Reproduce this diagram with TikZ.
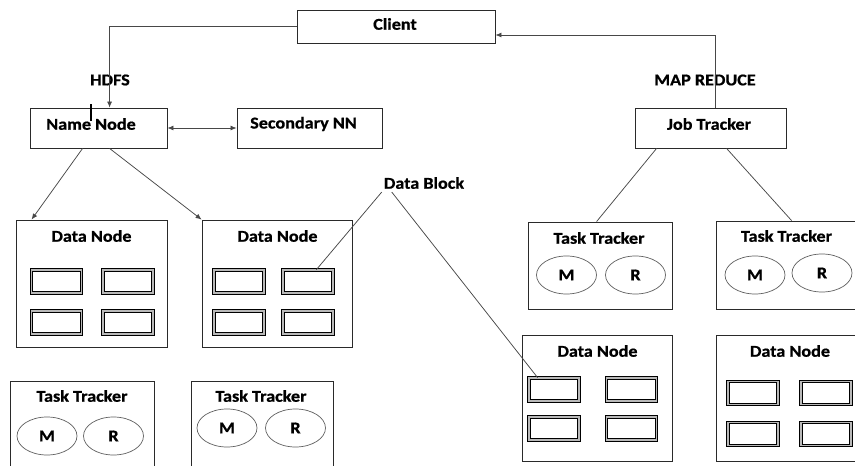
\documentclass[tikz,border=0pt]{standalone}
\usepackage{fontspec}
\setmainfont{Carlito}[FakeStretch=1.1,FakeBold=0.8]
\usetikzlibrary{arrows.meta,shapes.geometric}
\definecolor{edge}{HTML}{2A2A2A}
\definecolor{wire}{HTML}{484848}
\tikzset{
  box/.style={draw=edge, line width=0.85pt, fill=white, inner sep=0pt},
  lbl/.style={font=\bfseries\fontsize{16.5}{18}\selectfont, inner sep=0pt, text=black},
  blk/.style={draw=black, line width=0.7pt, double=gray!55, double distance=1.8pt,
              fill=white, minimum width=50pt, minimum height=23pt, inner sep=0pt},
  slot/.style={ellipse, draw=gray!75!black, line width=0.7pt, minimum width=60pt,
               minimum height=38pt, inner sep=0pt, font=\bfseries\fontsize{16.5}{18}\selectfont},
  wireline/.style={draw=wire, line width=0.75pt},
  arr/.style={wireline, -{Latex[length=6pt,width=5pt]}},
  darr/.style={wireline, {Latex[length=6pt,width=5pt]}-{Latex[length=6pt,width=5pt]}},
}
\begin{document}
\begin{tikzpicture}[x=1pt, y=-1pt]
\useasboundingbox (0,0) rectangle (855,466);
\clip (0,0) rectangle (855,466);

% top level
\node[box, minimum width=198pt, minimum height=33pt] (cl) at (396,26.5) {};
\node[lbl] at (395,24) {Client};
\node[box, minimum width=137pt, minimum height=40pt] (nn) at (98.5,128) {};
\node[lbl] at (91,124) {Name Node};
\node[box, minimum width=145pt, minimum height=40pt] (snn) at (309.5,128) {};
\node[lbl] at (303.5,124) {Secondary NN};
\node[box, minimum width=151pt, minimum height=40pt] (jt) at (710.5,128) {};
\node[lbl] at (709,124) {Job Tracker};

\node[lbl] (hdfs) at (110,80) {HDFS};
\node[lbl] (mr) at (705,80) {MAP REDUCE};
\node[lbl] (db) at (424,183) {Data Block};

% data nodes
\node[box, minimum width=151pt, minimum height=127pt] (dn1) at (91.5,283.5) {};
\node[lbl] at (91.5,236) {Data Node};
\node[blk] (b11) at (56.5,281.5) {};
\node[blk] (b12) at (128,281.5) {};
\node[blk] (b13) at (56.5,322.5) {};
\node[blk] (b14) at (128,322.5) {};

\node[box, minimum width=150pt, minimum height=127pt] (dn2) at (277,283.5) {};
\node[lbl] at (277.5,236) {Data Node};
\node[blk] (b21) at (239,281.5) {};
\node[blk] (b22) at (308,281.5) {};
\node[blk] (b23) at (239,322.5) {};
\node[blk] (b24) at (308,322.5) {};

\node[box, minimum width=150pt, minimum height=126pt] (dn3) at (597,398) {};
\node[lbl] at (597.5,351) {Data Node};
\node[blk] (b31) at (554,389.5) {};
\node[blk] (b32) at (631.5,389.5) {};
\node[blk] (b33) at (554,428.5) {};
\node[blk] (b34) at (631.5,428.5) {};

\node[box, minimum width=154pt, minimum height=126pt] (dn4) at (793,398) {};
\node[lbl] at (790,351) {Data Node};
\node[blk] (b41) at (753,393) {};
\node[blk] (b42) at (826,393) {};
\node[blk] (b43) at (753,434) {};
\node[blk] (b44) at (826,434) {};

% task trackers
\node[box, minimum width=144pt, minimum height=99pt] (tl1) at (82,430.5) {};
\node[lbl] at (82,396) {Task Tracker};
\node[slot] (tl1m) at (47,436) {M};
\node[slot] (tl1r) at (113.5,436) {R};

\node[box, minimum width=142pt, minimum height=99pt] (tl2) at (262,430.5) {};
\node[lbl] at (261,396) {Task Tracker};
\node[slot] (tl2m) at (227,428) {M};
\node[slot] (tl2r) at (295.5,428) {R};

\node[box, minimum width=144pt, minimum height=87pt] (tr1) at (600,265.5) {};
\node[lbl] at (599,238) {Task Tracker};
\node[slot] (tr1m) at (566.5,275) {M};
\node[slot] (tr1r) at (635.5,275) {R};

\node[box, minimum width=154pt, minimum height=88pt] (tr2) at (793,265) {};
\node[lbl] at (786.5,236) {Task Tracker};
\node[slot] (tr2m) at (755,275) {M};
\node[slot] (tr2r) at (822,273) {R};

% connectors
\draw[arr] (cl.west) -| ([xshift=80pt]nn.north west);
\draw[arr] ([xshift=81pt]jt.north west) |- ([yshift=-8.5pt]cl.east);
\draw[darr] (nn.east) -- (snn.west);
\draw[arr] ([xshift=53pt]nn.south west) -- ([xshift=16pt]dn1.north west);
\draw[arr] ([xshift=80pt]nn.south west) -- (dn2.north west);
\draw[wireline] ([xshift=22pt]jt.south west) -- ([xshift=69pt]tr1.north west);
\draw[wireline] ([xshift=92pt]jt.south west) -- ([xshift=76pt]tr2.north west);
\draw[wireline] ([xshift=-2pt,yshift=-3pt]db.south west) -- ([xshift=-17pt]b22.north east);
\draw[wireline] ([xshift=8pt,yshift=-3pt]db.south west) -- ([xshift=9pt]b31.north west);

% text cursor mark
\draw[black, line width=1.4pt] (91,104) -- (91,121);
\end{tikzpicture}
\end{document}
